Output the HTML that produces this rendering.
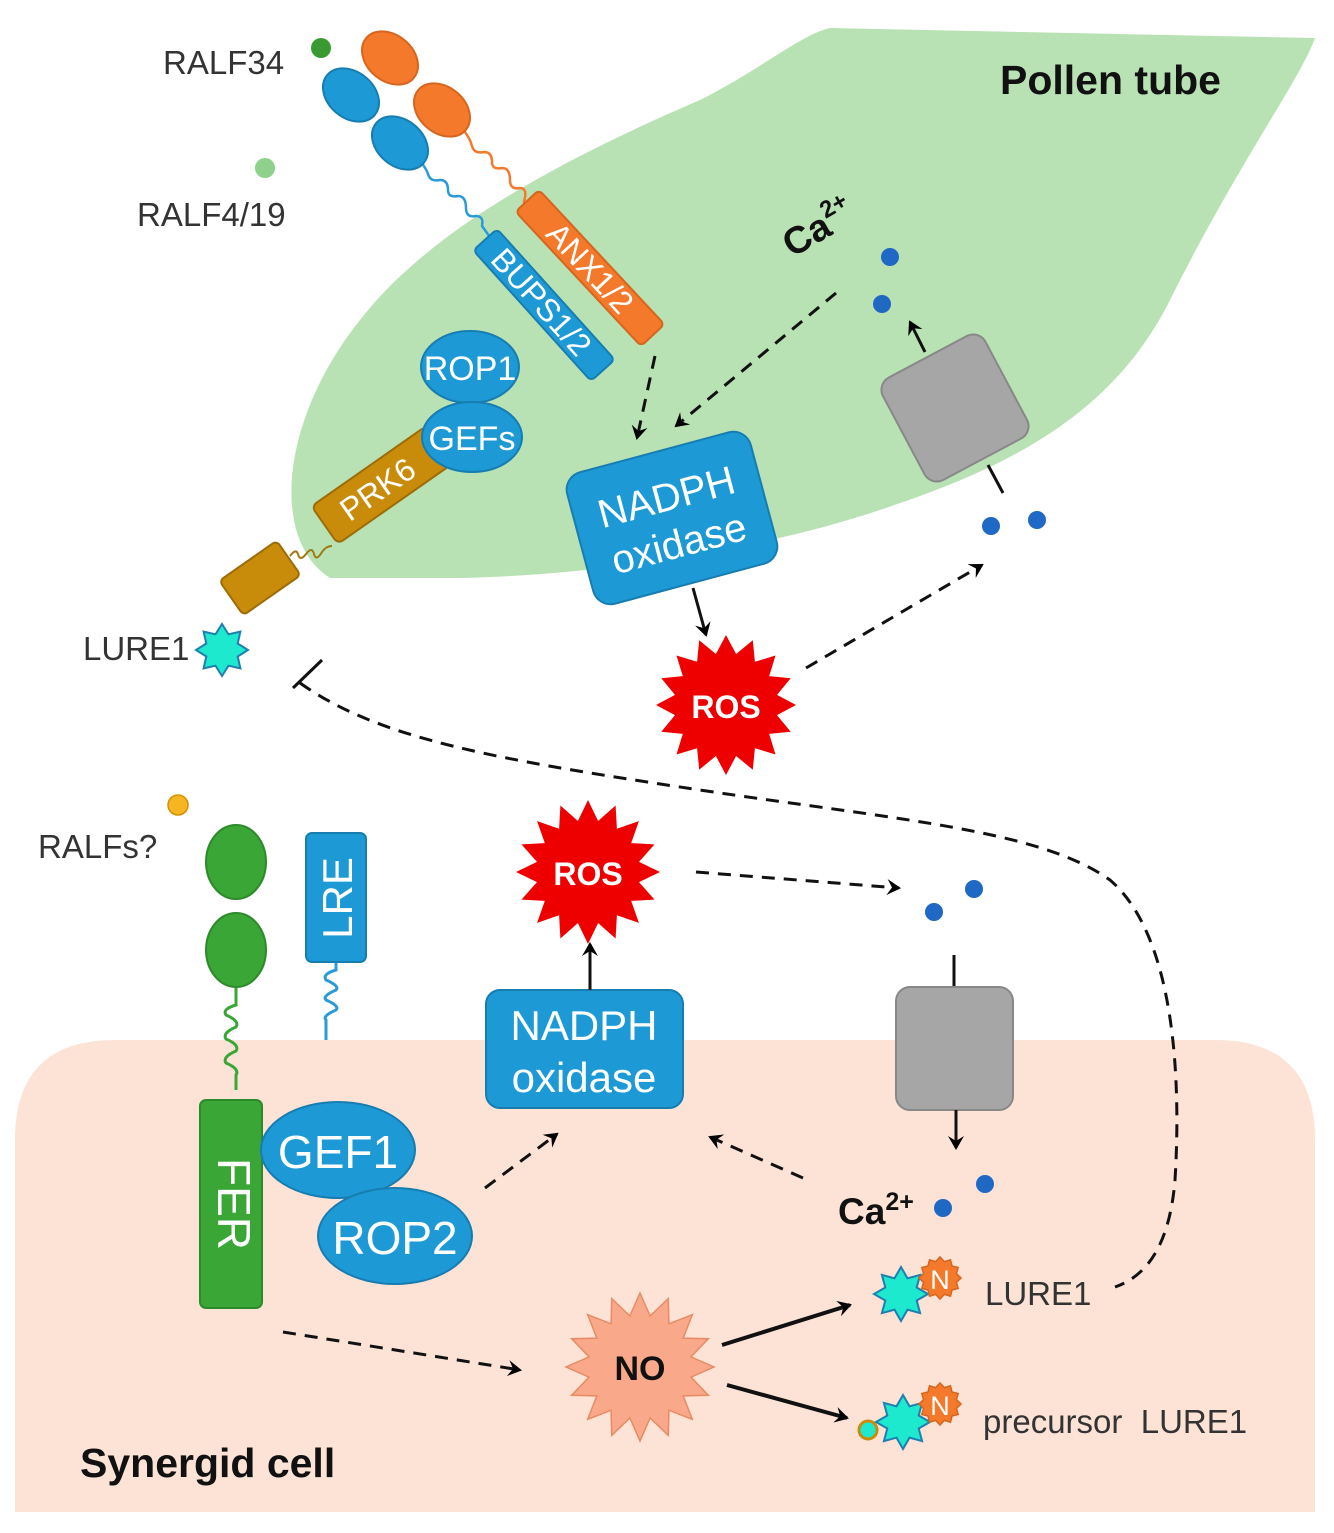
<!DOCTYPE html>
<html><head><meta charset="utf-8"><style>
html,body{margin:0;padding:0;background:#fff}
svg{display:block}
text{font-family:"Liberation Sans",sans-serif}
</style></head><body>
<svg id="s" width="1334" height="1533" viewBox="0 0 1334 1533" xmlns="http://www.w3.org/2000/svg">
<defs>
<marker id="ah" markerWidth="16" markerHeight="16" refX="12" refY="8" orient="auto" markerUnits="userSpaceOnUse"><path d="M0,0 L14,8 L0,16 L5,8 Z" fill="#000"/></marker>
</defs>
<path d="M15,1512 L15,1140 Q15,1040 115,1040 L1215,1040 Q1315,1040 1315,1140 L1315,1512 Z" fill="#fde3d6"/>
<path d="M330,578 C270,540 280,420 360,320 C430,230 560,160 700,100 C760,70 800,35 830,28 L1315,38 C1300,80 1240,160 1170,300 C1110,420 1000,470 880,510 C760,550 600,575 460,578 Z" fill="#b9e2b4"/>
<text x="1000" y="94" font-size="41" font-weight="bold" fill="#111">Pollen tube</text>
<text x="80" y="1477" font-size="41" font-weight="bold" fill="#111">Synergid cell</text>

<text x="163" y="74" font-size="33" fill="#333">RALF34</text>
<circle cx="321" cy="48" r="10" fill="#3a9a32"/>
<text x="137" y="226" font-size="33" fill="#333">RALF4/19</text>
<circle cx="265" cy="168" r="10" fill="#8fd08a"/>

<path d="M418,158 q8,10 10,16 q2,8 12,6 q8,0 8,10 q0,8 10,6 q8,0 8,12 q0,10 10,8 q8,0 6,10 l10,14" fill="none" stroke="#2a9bd8" stroke-width="2.5"/>
<path d="M462,128 q8,10 10,18 q2,8 12,6 q8,0 8,10 q0,8 10,6 q8,0 8,12 q0,10 10,8 q8,0 4,14 l8,12" fill="none" stroke="#f4792b" stroke-width="2.5"/>
<ellipse cx="351" cy="95" rx="31" ry="23" transform="rotate(40 351 95)" fill="#1d9ad6" stroke="#177db0" stroke-width="2"/>
<ellipse cx="400" cy="143" rx="31" ry="23" transform="rotate(40 400 143)" fill="#1d9ad6" stroke="#177db0" stroke-width="2"/>
<ellipse cx="390" cy="58" rx="31" ry="23" transform="rotate(40 390 58)" fill="#f4792b" stroke="#d6651e" stroke-width="2"/>
<ellipse cx="442" cy="110" rx="31" ry="23" transform="rotate(40 442 110)" fill="#f4792b" stroke="#d6651e" stroke-width="2"/>

<g transform="translate(544,305) rotate(48)">
<rect x="-88" y="-16" width="176" height="32" rx="5" fill="#1d9ad6" stroke="#177db0" stroke-width="2"/>
<text x="-4" y="11" font-size="32" fill="#fff" text-anchor="middle">BUPS1/2</text></g>
<g transform="translate(590,268) rotate(47)">
<rect x="-92" y="-16" width="184" height="32" rx="5" fill="#f4792b" stroke="#d6651e" stroke-width="2"/>
<text x="0" y="11" font-size="32" fill="#fff" text-anchor="middle">ANX1/2</text></g>

<path d="M290,556 q6,-8 8,-2 q2,8 8,0 q6,-8 8,0 q2,8 8,-2 q4,-6 10,-6" fill="none" stroke="#a07a10" stroke-width="2"/>
<g transform="translate(382,485) rotate(-35)">
<rect x="-70" y="-23" width="140" height="46" rx="6" fill="#c98c0a" stroke="#9c6c08" stroke-width="2"/>
<text x="-6" y="12" font-size="32" fill="#fff" text-anchor="middle">PRK6</text></g>
<g transform="translate(260,578) rotate(-35)">
<rect x="-35" y="-21" width="70" height="42" rx="5" fill="#c98c0a" stroke="#9c6c08" stroke-width="2"/></g>
<ellipse cx="470" cy="367" rx="49" ry="36" fill="#1d9ad6" stroke="#177db0" stroke-width="2"/>
<text x="470" y="380" font-size="34" fill="#fff" text-anchor="middle">ROP1</text>
<ellipse cx="472" cy="437" rx="50" ry="35" fill="#1d9ad6" stroke="#177db0" stroke-width="2"/>
<text x="472" y="450" font-size="34" fill="#fff" text-anchor="middle">GEFs</text>

<text x="83" y="660" font-size="33" fill="#333">LURE1</text>
<polygon class="star" data-c="222,650,26,17" fill="#1de9cf" stroke="#1f7fb0" stroke-width="2"/>

<g transform="translate(672,518) rotate(-15)">
<rect x="-95" y="-68" width="190" height="136" rx="18" fill="#1d9ad6" stroke="#177db0" stroke-width="2"/>
<text x="0" y="-8" font-size="40" fill="#fff" text-anchor="middle">NADPH</text>
<text x="0" y="40" font-size="40" fill="#fff" text-anchor="middle">oxidase</text></g>

<line x1="988" y1="465" x2="1003" y2="493" stroke="#111" stroke-width="3"/>
<g transform="translate(955,408) rotate(-28)">
<rect x="-58" y="-58" width="116" height="116" rx="14" fill="#a6a6a6" stroke="#888" stroke-width="2"/></g>
<line x1="925" y1="352" x2="910" y2="322" stroke="#111" stroke-width="3" marker-end="url(#ah)"/>
<circle cx="890" cy="257" r="9" fill="#1f68c4"/><circle cx="882" cy="304" r="9" fill="#1f68c4"/>
<circle cx="991" cy="526" r="9" fill="#1f68c4"/><circle cx="1037" cy="520" r="9" fill="#1f68c4"/>
<text transform="translate(792,258) rotate(-30)" font-size="38" font-weight="bold" fill="#111">Ca<tspan font-size="24" dy="-17">2+</tspan></text>

<g stroke="#111" stroke-width="3" stroke-dasharray="13,9" fill="none">
<line x1="655" y1="356" x2="637" y2="438" marker-end="url(#ah)"/>
<line x1="836" y1="293" x2="676" y2="426" marker-end="url(#ah)"/>
<line x1="806" y1="668" x2="982" y2="565" marker-end="url(#ah)"/>
<path d="M300,683 C380,740 500,760 700,790 C900,820 1040,830 1110,880 C1180,940 1180,1100 1175,1180 C1170,1240 1150,1275 1115,1287"/>
<line x1="485" y1="1188" x2="557" y2="1134" marker-end="url(#ah)"/>
<line x1="803" y1="1178" x2="710" y2="1137" marker-end="url(#ah)"/>
<line x1="696" y1="872" x2="899" y2="888" marker-end="url(#ah)"/>
<line x1="283" y1="1332" x2="520" y2="1370" marker-end="url(#ah)"/>
</g>
<line x1="293" y1="688" x2="322" y2="660" stroke="#111" stroke-width="3"/>
<line x1="693" y1="588" x2="706" y2="635" stroke="#111" stroke-width="3" marker-end="url(#ah)"/>

<polygon class="star" data-c="726,705,70,52,16" fill="#ee0000"/>
<text x="726" y="718" font-size="32" font-weight="bold" fill="#fff" text-anchor="middle">ROS</text>

<text x="38" y="858" font-size="33" fill="#333">RALFs?</text>
<circle cx="178" cy="805" r="10" fill="#f5b622" stroke="#d49000" stroke-width="1.5"/>
<path d="M236,985 l0,20 q-14,4 -10,10 q14,6 10,12 q-14,6 -10,12 q14,6 10,12 q-14,6 -10,12 q14,6 10,12 l0,15" fill="none" stroke="#3aa636" stroke-width="3"/>
<ellipse cx="236" cy="862" rx="30" ry="37" fill="#3aa636" stroke="#2d8a2a" stroke-width="2"/>
<ellipse cx="236" cy="950" rx="30" ry="37" fill="#3aa636" stroke="#2d8a2a" stroke-width="2"/>
<rect x="200" y="1100" width="62" height="208" rx="6" fill="#3aa636" stroke="#2d8a2a" stroke-width="2"/>
<text transform="translate(218,1204) rotate(90)" font-size="46" fill="#fff" text-anchor="middle">FER</text>
<path d="M336,962 l0,8 q-14,4 -10,10 q14,6 10,10 q-14,6 -10,10 q14,6 10,10 q-14,6 -10,10 l0,20" fill="none" stroke="#2a9bd8" stroke-width="3"/>
<rect x="306" y="833" width="60" height="129" rx="6" fill="#1d9ad6" stroke="#177db0" stroke-width="2"/>
<text transform="translate(352,898) rotate(-90)" font-size="42" fill="#fff" text-anchor="middle">LRE</text>
<ellipse cx="338" cy="1150" rx="77" ry="48" fill="#1d9ad6" stroke="#177db0" stroke-width="2"/>
<text x="338" y="1168" font-size="46" fill="#fff" text-anchor="middle">GEF1</text>
<ellipse cx="395" cy="1236" rx="77" ry="48" fill="#1d9ad6" stroke="#177db0" stroke-width="2"/>
<text x="395" y="1254" font-size="46" fill="#fff" text-anchor="middle">ROP2</text>

<rect x="486" y="990" width="197" height="118" rx="14" fill="#1d9ad6" stroke="#177db0" stroke-width="2"/>
<text x="584" y="1040" font-size="42" fill="#fff" text-anchor="middle">NADPH</text>
<text x="584" y="1092" font-size="42" fill="#fff" text-anchor="middle">oxidase</text>
<line x1="590" y1="990" x2="590" y2="944" stroke="#111" stroke-width="3" marker-end="url(#ah)"/>
<polygon class="star" data-c="588,872,72,52,16" fill="#ee0000"/>
<text x="588" y="885" font-size="32" font-weight="bold" fill="#fff" text-anchor="middle">ROS</text>

<circle cx="934" cy="912" r="9" fill="#1f68c4"/><circle cx="974" cy="889" r="9" fill="#1f68c4"/>
<circle cx="943" cy="1208" r="9" fill="#1f68c4"/><circle cx="985" cy="1184" r="9" fill="#1f68c4"/>
<line x1="954" y1="955" x2="954" y2="988" stroke="#111" stroke-width="3"/>
<rect x="896" y="987" width="117" height="123" rx="14" fill="#a6a6a6" stroke="#888" stroke-width="2"/>
<line x1="956" y1="1110" x2="956" y2="1148" stroke="#111" stroke-width="3" marker-end="url(#ah)"/>
<text x="838" y="1224" font-size="37" font-weight="bold" fill="#111">Ca<tspan font-size="25" dy="-14">2+</tspan></text>

<polygon class="star" data-c="640,1367,74,52,16" fill="#f9a98a" stroke="#e88a66" stroke-width="1.5"/>
<text x="640" y="1380" font-size="34" font-weight="bold" fill="#111" text-anchor="middle">NO</text>
<line x1="722" y1="1345" x2="850" y2="1305" stroke="#111" stroke-width="4" marker-end="url(#ah)"/>
<line x1="727" y1="1385" x2="847" y2="1418" stroke="#111" stroke-width="4" marker-end="url(#ah)"/>

<polygon class="star" data-c="901,1294,27,17" fill="#1de9cf" stroke="#1f7fb0" stroke-width="2"/>
<polygon class="star" data-c="940,1278,21,17,12" fill="#f4792b" stroke="#d6651e" stroke-width="1.5"/>
<text x="940" y="1289" font-size="27" fill="#fff" text-anchor="middle">N</text>
<text x="985" y="1305" font-size="33" fill="#333">LURE1</text>
<circle cx="868" cy="1430" r="9" fill="#1de9cf" stroke="#c98c0a" stroke-width="3"/>
<polygon class="star" data-c="903,1422,27,17" fill="#1de9cf" stroke="#1f7fb0" stroke-width="2"/>
<polygon class="star" data-c="940,1404,21,17,12" fill="#f4792b" stroke="#d6651e" stroke-width="1.5"/>
<text x="940" y="1415" font-size="27" fill="#fff" text-anchor="middle">N</text>
<text x="983" y="1433" font-size="33" fill="#333">precursor&#160;&#160;LURE1</text>
</svg>
<script>
document.querySelectorAll('polygon.star').forEach(function(p){
 var a=p.getAttribute('data-c').split(',').map(Number);
 var cx=a[0],cy=a[1],R=a[2],r=a[3],n=a[4]||8,pts=[];
 for(var i=0;i<2*n;i++){var ang=Math.PI*i/n-Math.PI/2;var rr=i%2?r:R;pts.push((cx+rr*Math.cos(ang)).toFixed(1)+','+(cy+rr*Math.sin(ang)).toFixed(1));}
 p.setAttribute('points',pts.join(' '));
});
</script>
</body></html>
